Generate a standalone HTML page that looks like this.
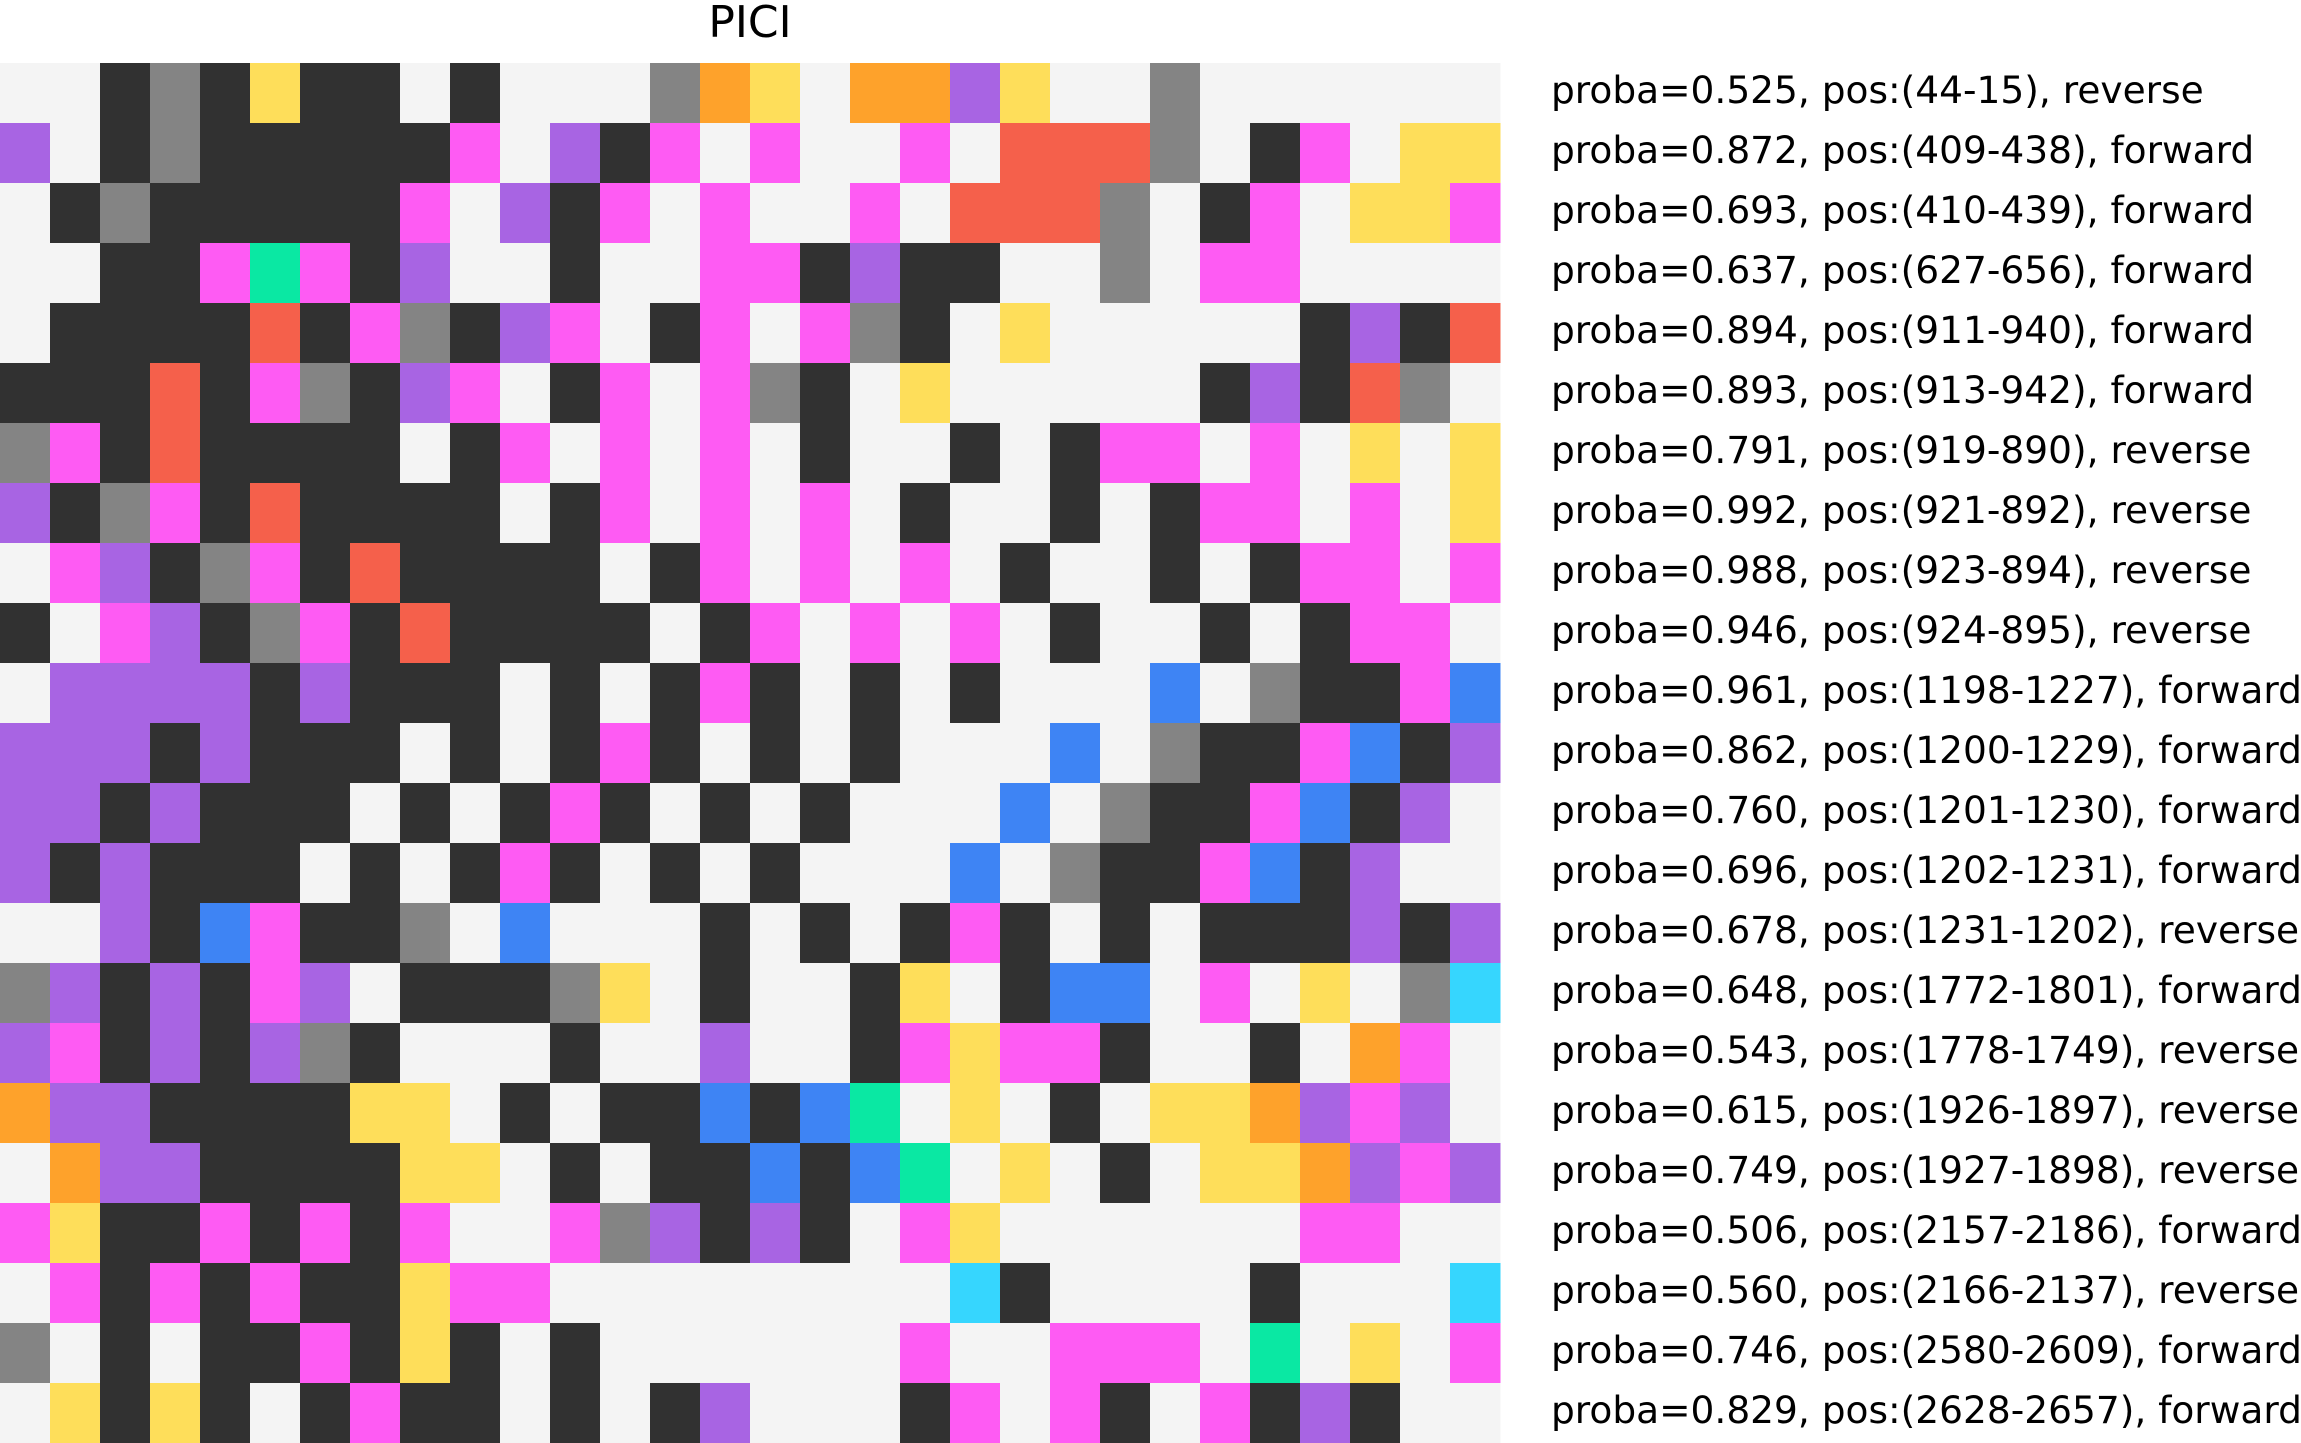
<!DOCTYPE html>
<html>
<head>
<meta charset="utf-8">
<style>
  html, body { margin: 0; padding: 0; background: #ffffff; }
  body { width: 2301px; height: 1443px; overflow: hidden; }
  svg { display: block; }
  text { font-family: "DejaVu Sans", "Liberation Sans", sans-serif; fill: #000; }
</style>
</head>
<body>
<svg id="chart" width="2301" height="1443" viewBox="0 0 2301 1443" xmlns="http://www.w3.org/2000/svg">
  <text x="750" y="37" font-size="44" text-anchor="middle">PICI</text>
  <g id="cells"></g>
  <g id="labels"></g>
</svg>
<script>
const rowsData = [
  "LLDGDYDDLDLLLGOYLOOPYLLGLLLLLL",
  "PLDGDDDDDKLPDKLKLLKLRRRGLDKLYY",
  "LDGDDDDDKLPDKLKLLKLRRRGLDKLYYK",
  "LLDDKEKDPLLDLLKKDPDDLLGLKKLLLL",
  "LDDDDRDKGDPKLDKLKGDLYLLLLLDPDR",
  "DDDRDKGDPKLDKLKGDLYLLLLLDPDRGL",
  "GKDRDDDDLDKLKLKLDLLDLDKKLKLYLY",
  "PDGKDRDDDDLDKLKLKLDLLDLDKKLKLY",
  "LKPDGKDRDDDDLDKLKLKLDLLDLDKKLK",
  "DLKPDGKDRDDDDLDKLKLKLDLLDLDKKL",
  "LPPPPDPDDDLDLDKDLDLDLLLBLGDDKB",
  "PPPDPDDDLDLDKDLDLDLLLBLGDDKBDP",
  "PPDPDDDLDLDKDLDLDLLLBLGDDKBDPL",
  "PDPDDDLDLDKDLDLDLLLBLGDDKBDPLL",
  "LLPDBKDDGLBLLLDLDLDKDLDLDDDPDP",
  "GPDPDKPLDDDGYLDLLDYLDBBLKLYLGC",
  "PKDPDPGDLLLDLLPLLDKYKKDLLDLOKL",
  "OPPDDDDYYLDLDDBDBELYLDLYYOPKPL",
  "LOPPDDDDYYLDLDDBDBELYLDLYYOPKP",
  "KYDDKDKDKLLKGPDPDLKYLLLLLLKKLL",
  "LKDKDKDDYKKLLLLLLLLCDLLLLDLLLC",
  "GLDLDDKDYDLDLLLLLLKLLKKKLELYLK",
  "LYDYDLDKDDLDLDPLLLDKLKDLKDPDLL"
];
const probaValues = ["0.525","0.872","0.693","0.637","0.894","0.893","0.791","0.992","0.988","0.946","0.961","0.862","0.760","0.696","0.678","0.648","0.543","0.615","0.749","0.506","0.560","0.746","0.829"];
const posValues = ["44-15","409-438","410-439","627-656","911-940","913-942","919-890","921-892","923-894","924-895","1198-1227","1200-1229","1201-1230","1202-1231","1231-1202","1772-1801","1778-1749","1926-1897","1927-1898","2157-2186","2166-2137","2580-2609","2628-2657"];
const strandValues = ["reverse","forward","forward","forward","forward","forward","reverse","reverse","reverse","reverse","forward","forward","forward","forward","reverse","forward","reverse","reverse","reverse","forward","reverse","forward","forward"];
const colorMap = {L:"#f4f4f4",D:"#313131",G:"#848484",K:"#fe5bf3",P:"#a864e3",Y:"#fede5a",O:"#fea22b",R:"#f5604b",E:"#0ae8a3",B:"#3e84f4",C:"#36d6fe"};

const gridX0 = 0, gridY0 = 63, gridW = 1500, gridH = 1380;
const nRows = rowsData.length, nCols = rowsData[0].length;
const cw = gridW / nCols, ch = gridH / nRows;
const xScale = c => gridX0 + c * cw;
const yScale = r => gridY0 + r * ch;
const NS = "http://www.w3.org/2000/svg";
const cells = document.getElementById("cells");
const labels = document.getElementById("labels");
for (let r = 0; r < nRows; r++) {
  const row = rowsData[r];
  for (let c = 0; c < nCols; c++) {
    const rect = document.createElementNS(NS, "rect");
    rect.setAttribute("x", xScale(c));
    rect.setAttribute("y", yScale(r));
    rect.setAttribute("width", cw + 0.5);
    rect.setAttribute("height", ch + 0.5);
    rect.setAttribute("fill", colorMap[row[c]] || "#f4f4f4");
    
    
    cells.appendChild(rect);
  }
  const t = document.createElementNS(NS, "text");
  t.setAttribute("x", 1551);
  t.setAttribute("y", yScale(r) + ch / 2 + 10);
  t.setAttribute("font-size", "37.5");
  t.textContent = "proba=" + probaValues[r] + ", pos:(" + posValues[r] + "), " + strandValues[r];
  
  
  labels.appendChild(t);
}
</script>
</body>
</html>
